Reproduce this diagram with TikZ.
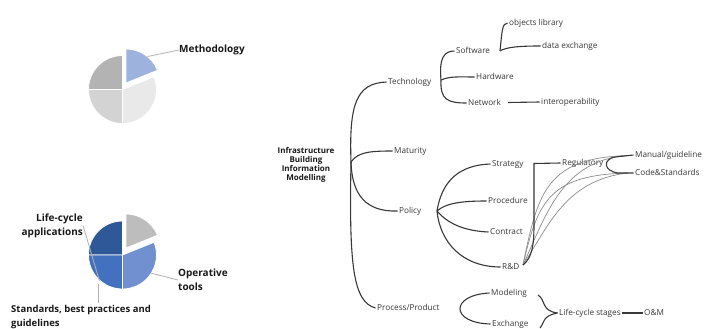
\documentclass[tikz,border=0pt]{standalone}
\usepackage{fontspec}
\setmainfont{Open Sans}
\definecolor{gA}{HTML}{B3B3B3}
\definecolor{gB}{HTML}{D3D3D3}
\definecolor{gC}{HTML}{E9E9E9}
\definecolor{bM}{HTML}{9DB3DE}
\definecolor{bD}{HTML}{2F5898}
\definecolor{bMid}{HTML}{4370BF}
\definecolor{bL}{HTML}{7190D0}
\definecolor{gG}{HTML}{BDBDBD}
\begin{document}
\begin{tikzpicture}[x=1pt,y=-1pt,
  mm/.style={anchor=west,inner sep=1.5pt,font=\fontsize{8.2}{9}\selectfont,text=black!78,text height=6pt,text depth=1.7pt},
  rootn/.style={align=center,inner sep=0pt,font=\fontsize{8}{9}\selectfont\bfseries,text=black!90},
  br/.style={draw=black!78,line width=1.1pt},
  thinl/.style={draw=black!45,line width=0.7pt},
  lbl/.style={font=\fontsize{10}{14}\selectfont\bfseries,inner sep=0pt,text=black!90},
  lead/.style={draw=black!30,line width=0.8pt},
  slice/.style={draw=white,line width=0.8pt}]
\useasboundingbox[fill=white] (0,0) rectangle (707,329);

% ---------- pie 1 ----------
\begin{scope}[shift={(122.5,89.5)},y=1pt]
  \filldraw[slice,fill=gA] (0,0) -- (180:34) arc[start angle=180,end angle=90,radius=34pt] -- cycle;
  \filldraw[slice,fill=gB] (0,0) -- (270:34) arc[start angle=270,end angle=180,radius=34pt] -- cycle;
  \filldraw[slice,fill=gC] (0,0) -- (22:34) arc[start angle=22,end angle=-90,radius=34pt] -- cycle;
  \filldraw[slice,fill=bM] (3.5,6.5) -- ++(90:34) arc[start angle=90,end angle=22,radius=34pt] -- cycle;
  \coordinate (m1) at (25,33);
\end{scope}
\node[lbl,anchor=west] (meth) at (179,50) {Methodology};
\draw[lead] (m1) -- (meth.west);

% ---------- pie 2 ----------
\begin{scope}[shift={(122.5,255)},y=1pt]
  \filldraw[slice,fill=bD] (0,0) -- (180:34) arc[start angle=180,end angle=90,radius=34pt] -- cycle;
  \filldraw[slice,fill=bMid] (0,0) -- (270:34) arc[start angle=270,end angle=180,radius=34pt] -- cycle;
  \filldraw[slice,fill=bL] (0,0) -- (22:34) arc[start angle=22,end angle=-90,radius=34pt] -- cycle;
  \filldraw[slice,fill=gG] (3.5,7) -- ++(90:34) arc[start angle=90,end angle=22,radius=34pt] -- cycle;
  \coordinate (l1) at (-23,-26);
  \coordinate (o1) at (28,-18);
  \coordinate (s1) at (-24.5,-29);
\end{scope}
\node[lbl,anchor=east,align=right] (life) at (83,225.5) {Life-cycle\\applications};
\node[lbl,anchor=west,align=left] (oper) at (178,280) {Operative\\tools};
\node[lbl,anchor=north west,align=left,font=\fontsize{9.5}{14}\selectfont\bfseries] (std) at (11,305) {Standards, best practices and\\guidelines};
\draw[lead] (life.east) -- (l1);
\draw[lead] (o1) -- (oper.west);
\draw[lead] (s1) -- (98,303);

% ---------- mind map ----------
\node[rootn] (root) at (306,164.5) {Infrastructure\\Building\\Information\\Modelling};
\node[mm] (tech) at (386.5,82) {Technology};
\node[mm] (mat) at (392.5,151) {Maturity};
\node[mm] (pol) at (397.5,211) {Policy};
\node[mm] (proc) at (375.5,308) {Process/Product};
\node[mm] (sw) at (454.5,51) {Software};
\node[mm] (hw) at (474.5,77) {Hardware};
\node[mm] (nw) at (466.5,103) {Network};
\node[mm] (obj) at (507.5,23) {objects library};
\node[mm] (dex) at (540.5,46) {data exchange};
\node[mm] (iop) at (539.5,102) {interoperability};
\node[mm] (strat) at (490.5,164) {Strategy};
\node[mm] (proced) at (486.5,201) {Procedure};
\node[mm] (contr) at (488.5,232) {Contract};
\node[mm] (rd) at (500.5,267) {R\&D};
\node[mm] (reg) at (560.5,163) {Regulatory};
\node[mm] (man) at (633.5,155) {Manual/guideline};
\node[mm] (code) at (633.5,173) {Code\&Standards};
\node[mm] (model) at (489.5,293) {Modeling};
\node[mm] (exch) at (490.5,324) {Exchange};
\node[mm] (lcs) at (557.5,313) {Life-cycle stages};
\node[mm] (om) at (642.5,313) {O\&M};

% root spine
\coordinate (rj) at (351,162);
\draw[br] (rj) .. controls (349,105) and (356,83) .. (tech.west);
\draw[br] (rj) .. controls (358,152) and (370,151) .. (mat.west);
\draw[br] (rj) .. controls (352,195) and (366,212) .. (pol.west);
\draw[br] (rj) .. controls (349,265) and (353,302) .. (proc.west);

% technology
\coordinate (tj) at (441,80);
\draw[br] (tj) .. controls (439,58) and (444,51) .. (sw.west);
\draw[br] (tj) .. controls (450,76) and (460,77) .. (hw.west);
\draw[br] (tj) .. controls (440,100) and (448,103) .. (nw.west);
\coordinate (swj) at (500,51);
\draw[br] (swj) .. controls (502,32) and (502,23) .. (obj.west);
\draw[br] (swj) .. controls (506,47) and (520,46) .. (dex.west);
\draw[br] (508,102.5) -- (iop.west);

% policy
\coordinate (pj) at (437,211);
\draw[br] (pj) .. controls (442,180) and (460,165) .. (strat.west);
\draw[br] (pj) .. controls (446,203) and (462,201) .. (proced.west);
\draw[br] (pj) .. controls (448,224) and (465,231) .. (contr.west);
\draw[br] (pj) .. controls (440,242) and (462,267) .. (rd.west);

% regulatory web
\coordinate (rdj) at (523,265);
\coordinate (mj) at (628,155.5);
\coordinate (cj) at (628,173);
\draw[thinl] (rdj) .. controls (538,190) and (548,158) .. (mj);
\draw[thinl] (rdj) .. controls (538,200) and (550,175) .. (cj);
\draw[thinl] (rdj) .. controls (546,215) and (562,160) .. (mj);
\draw[thinl] (rdj) .. controls (549,225) and (566,180) .. (cj);
\draw[br] (rdj) .. controls (532,258) and (534,245) .. (534,225) -- (534,163.5) -- (reg.west);
\draw[br] (man.west) -- (615,157) .. controls (603,159) and (603,171) .. (618,173) -- (code.west);

% process / product
\draw[br] (model.west) .. controls (450,295) and (450,323) .. (exch.west);
\draw[br] (538,295) .. controls (546,300) and (541,311) .. (lcs.west);
\draw[br] (lcs.west) .. controls (542,316) and (545,322) .. (540,328);
\draw[br] (lcs.east) -- (om.west);
\end{tikzpicture}
\end{document}
